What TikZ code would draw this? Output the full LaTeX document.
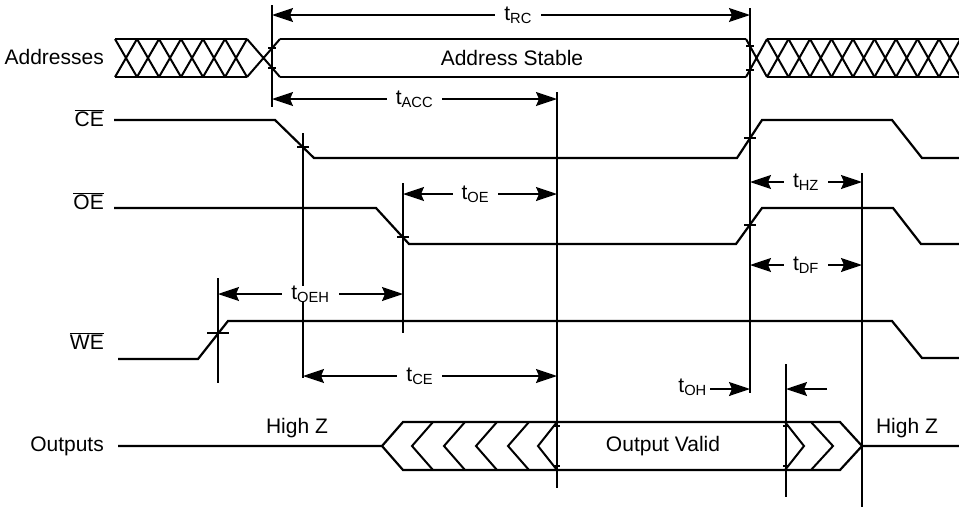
\documentclass[tikz,border=0pt]{standalone}
\usepackage{fontspec}
\setmainfont{Liberation Sans}
\usetikzlibrary{arrows.meta}

\begin{document}
\begin{tikzpicture}
[x=1pt,y=-1pt,
  waveDecorate/.style={-,line width=2.2pt,line join=miter},%
  hatchDecorate/.style={-,line width=2pt},%
  markDecorate/.style={-,line width=1.6pt},%
  dimDecorate/.style={{Stealth[length=21pt,width=14pt,inset=3pt]}-{Stealth[length=21pt,width=14pt,inset=3pt]},line width=1.6pt},%
  oneDecorate/.style={-{Stealth[length=21pt,width=14pt,inset=3pt]},line width=1.6pt},%
  labelDecorate/.style={inner sep=0pt,font=\fontsize{21}{25}\selectfont},%
  timeDecorate/.style={labelDecorate,fill=white,inner xsep=9pt}]
\useasboundingbox (0,0) rectangle (959,507);
%% signal names
\foreach \nodename/\nodelabel/\y in {
  addr/Addresses/57, ce/$\overline{\mbox{CE}}$/118, oe/$\overline{\mbox{OE}}$/201,
  we/$\overline{\mbox{WE}}$/341, out/Outputs/446}
{
  \node (\nodename) [labelDecorate,anchor=east] at (104,\y) {\nodelabel};
}
%% addresses
\draw[waveDecorate] (115,39) -- (247,39) (115,77) -- (247,77)
  (280,39) -- (746,39) (280,77) -- (746,77)
  (767,39) -- (961,39) (767,77) -- (961,77);
\foreach \x in {115,137,...,225}
  \draw[hatchDecorate] (\x,39) -- ++(22,38) (\x,77) -- ++(22,-38);
\foreach \k in {0,...,8}
  \draw[hatchDecorate] ({767+21.5*\k},39) -- ++(21.5,38) ({767+21.5*\k},77) -- ++(21.5,-38);
\draw[hatchDecorate] (247,39) -- (280,77) (247,77) -- (280,39)
  (746,39) -- (767,77) (746,77) -- (767,39);
\node (stable) [labelDecorate] at (512,58) {Address Stable};
%% control lines
\draw[waveDecorate] (114,120) -- (275,120) -- (314,158) -- (737,158) -- (762,120)
  -- (892,120) -- (922,158) -- (961,158);
\draw[waveDecorate] (114,208) -- (376,208) -- (409,244) -- (736,244) -- (762,208)
  -- (893,208) -- (921,244) -- (961,244);
\draw[waveDecorate] (118,359) -- (198,359) -- (228,321) -- (892,321) -- (922,358)
  -- (961,358);
%% outputs
\draw[waveDecorate] (118,446) -- (382,446) (862,446) -- (961,446)
  (382,446) -- (403,422) -- (840,422) -- (862,446) -- (840,470) -- (403,470) -- cycle;
\foreach \x in {412,444,476,508}
  \draw[hatchDecorate] (\x+21,422) -- (\x,446) -- (\x+21,470);
\draw[hatchDecorate] (557,422) -- (538,446) -- (557,470)
  (785,422) -- (804,446) -- (785,470) (811,422) -- (833,446) -- (811,470);
\node (hiZa) [labelDecorate] at (297,428) {High Z};
\node (hiZb) [labelDecorate] at (907,428) {High Z};
\node (valid) [labelDecorate] at (663,446) {Output Valid};
%% reference lines and ticks
\foreach \x/\ya/\yb in {
  272/5/107, 750/8/393, 557/92/488, 303/133/378,
  403/183/333, 218/278/383, 786/364/497, 862/173/507}
{
  \draw[markDecorate] (\x,\ya) -- (\x,\yb);
}
\foreach \x/\y/\w in {
  272/48/4, 272/68/4, 750/46/4, 750/70/4, 303/147/6, 403/237/6,
  218/333/11, 750/138/6, 750/225/6, 557/426/3, 557/466/3, 786/426/3, 786/466/3}
{
  \draw[markDecorate] (\x-\w,\y) -- (\x+\w,\y);
}
%% timing arrows
\foreach \nodename/\xa/\xb/\y/\sub/\p in {
  tRC/272/750/15/RC/0.515, tACC/272/557/99/ACC/0.5, tOE/403/557/194/OE/0.47,
  tHZ/750/862/182/HZ/0.5, tDF/750/862/265/DF/0.5, tOEH/218/403/294/OEH/0.5,
  tCE/303/557/376/CE/0.46}
{
  \coordinate (\nodename L) at (\xa,\y);
  \coordinate (\nodename R) at (\xb,\y);
  \draw[dimDecorate] (\nodename L) -- (\nodename R)
    node[pos=\p,timeDecorate] (\nodename) {t\textsubscript{\sub}};
}
\node (tOH) [labelDecorate,anchor=east,inner xsep=3pt] at (710,387) {t\textsubscript{OH}};
\coordinate (ohHead) at (750,389);
\coordinate (ohTail) at (827,389);
\coordinate (ohStop) at (786,389);
\draw[oneDecorate] (tOH.east |- ohHead) -- (ohHead);
\draw[oneDecorate] (ohTail) -- (ohStop);
\end{tikzpicture}
\end{document}
